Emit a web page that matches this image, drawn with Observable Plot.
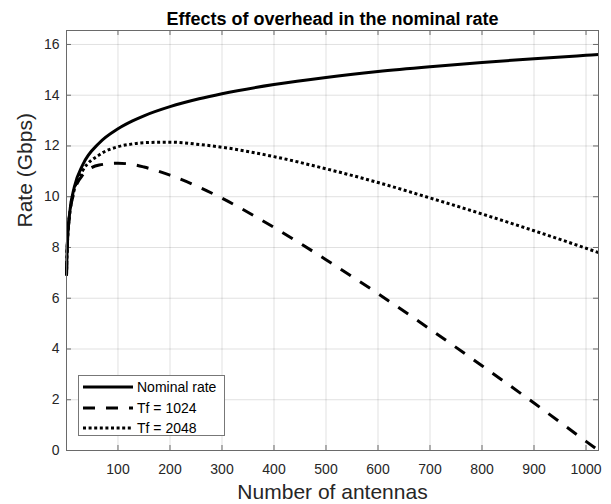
<!DOCTYPE html>
<html>
<head>
<meta charset="utf-8">
<script src="https://cdn.jsdelivr.net/npm/d3@7"></script>
<script src="https://cdn.jsdelivr.net/npm/@observablehq/plot@0.6"></script>
<style>
  body { margin: 0; background: #fff; }
  #wrap { position: relative; width: 611px; height: 504px; font-family: "Liberation Sans", Arial, sans-serif; }
  #legend { position: absolute; left: 78px; top: 375px; width: 147px; height: 61px; border: 1px solid #777; background: #fff; box-sizing: border-box; }
  .row { position: absolute; left: 0; height: 20px; display: flex; align-items: center; font-size: 14px; color: #000; }
  .row svg { margin-left: 4px; margin-right: 4px; }
</style>
</head>
<body>
<div id="wrap"></div>
<script>
// Number of antennas (M) at which the rates are sampled
const antennas = [1, 2, 4, 8, 16, 32, 64, 100, 128, 150, 200, 256, 300, 400, 500, 600, 700, 800, 900, 1000, 1024];
// Rate in Gbps for each case
const nominalRate = [6.9, 7.77, 8.64, 9.51, 10.38, 11.25, 12.12, 12.68, 12.99, 13.19, 13.55, 13.86, 14.06, 14.42, 14.70, 14.93, 15.12, 15.29, 15.44, 15.57, 15.60];
const rateTf1024  = [6.89, 7.75, 8.61, 9.44, 10.20, 10.85, 11.25, 11.32, 11.27, 11.17, 10.85, 10.38, 9.94, 8.79, 7.52, 6.18, 4.78, 3.34, 1.87, 0.36, 0.0];
const rateTf2048  = [6.9, 7.76, 8.62, 9.47, 10.28, 11.02, 11.65, 11.97, 12.08, 12.13, 12.15, 12.06, 11.95, 11.58, 11.10, 10.56, 9.95, 9.32, 8.66, 7.97, 7.80];

const seriesNames = ["Nominal rate", "Tf = 1024", "Tf = 2048"];
const seriesDash = ["none", "12,11", "3,2.6"];
const seriesValues = [nominalRate, rateTf1024, rateTf2048];

const xTicks = [100, 200, 300, 400, 500, 600, 700, 800, 900, 1000];
const yTicks = [0, 2, 4, 6, 8, 10, 12, 14, 16];

const title = "Effects of overhead in the nominal rate";
const xLabel = "Number of antennas";
const yLabel = "Rate (Gbps)";

const W = 611, H = 504;
const mL = 66, mR = 13, mT = 30, mB = 54;
const innerW = W - mL - mR, innerH = H - mT - mB;
const font = "'Liberation Sans', Arial, sans-serif";

const tables = seriesValues.map(vals => antennas.map((m, i) => ({ m, rate: vals[i] })));

const axisColor = "#6a6a6a";

const chart = Plot.plot({
  width: W,
  height: H,
  marginLeft: mL,
  marginRight: mR,
  marginTop: mT,
  marginBottom: mB,
  style: { fontFamily: font, fontSize: "14px", color: "#262626", background: "#fff" },
  x: { domain: [1, 1024] },
  y: { domain: [0, 16.55] },
  marks: [
    Plot.gridX(xTicks, { stroke: "#000", strokeOpacity: 0.12 }),
    Plot.gridY(yTicks, { stroke: "#000", strokeOpacity: 0.12 }),
    // inward tick marks on all four sides
    Plot.tickX(xTicks, { x: d => d, insetTop: innerH - 5, stroke: axisColor }),
    Plot.tickX(xTicks, { x: d => d, insetBottom: innerH - 5, stroke: axisColor }),
    Plot.tickY(yTicks, { y: d => d, insetRight: innerW - 5, stroke: axisColor }),
    Plot.tickY(yTicks, { y: d => d, insetLeft: innerW - 5, stroke: axisColor }),
    Plot.axisX({ ticks: xTicks, tickSize: 0, tickPadding: 14, label: null, fontSize: 14, tickFormat: d => String(d) }),
    Plot.axisY({ ticks: yTicks, tickSize: 0, tickPadding: 7, label: null, fontSize: 14, tickFormat: d => String(d) }),
    ...tables.map((t, i) => Plot.line(t, {
      x: "m", y: "rate", stroke: "#000", strokeWidth: 3,
      strokeDasharray: seriesDash[i] === "none" ? undefined : seriesDash[i],
      strokeLinecap: "butt", curve: "monotone-x"
    })),
    Plot.frame({ stroke: axisColor }),
    Plot.text([title], { frameAnchor: "top", lineAnchor: "middle", dy: -11, fontWeight: "bold", fontSize: 18, fill: "#000" }),
    Plot.text([xLabel], { frameAnchor: "bottom", lineAnchor: "middle", dy: 42, fontSize: 21, fill: "#262626" }),
    Plot.text([yLabel], { frameAnchor: "left", dx: -41, dy: -13, rotate: -90, fontSize: 21, fill: "#262626" })
  ]
});

const wrap = document.getElementById("wrap");
wrap.appendChild(chart);

// legend box in the lower-left corner of the axes
const legend = document.createElement("div");
legend.id = "legend";
seriesNames.forEach((name, i) => {
  const row = document.createElement("div");
  row.className = "row";
  row.style.top = (1 + i * 20.5) + "px";
  const dash = seriesDash[i] === "none" ? "" : `stroke-dasharray="${seriesDash[i]}"`;
  row.innerHTML = `<svg width="50" height="6"><line x1="0" y1="3" x2="50" y2="3" stroke="#000" stroke-width="3" ${dash}/></svg><span>${name}</span>`;
  legend.appendChild(row);
});
wrap.appendChild(legend);
</script>
</body>
</html>
